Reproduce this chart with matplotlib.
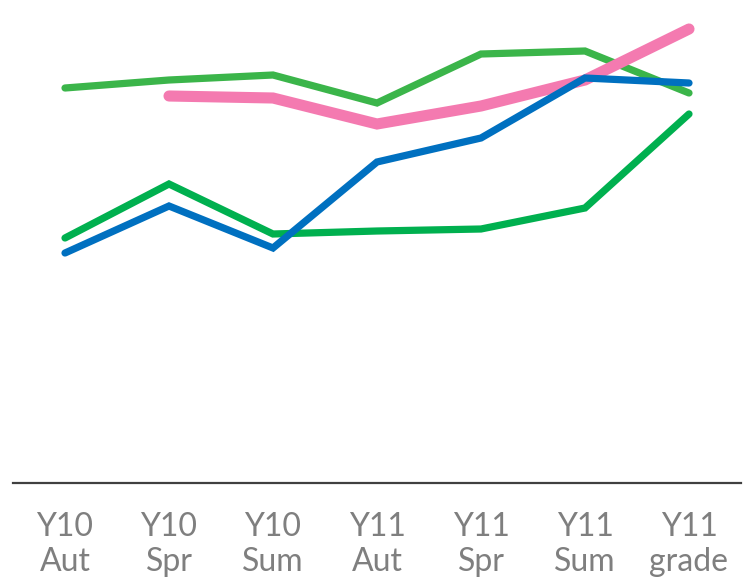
import matplotlib
matplotlib.use("Agg")
import matplotlib.pyplot as plt
import numpy as np

categories = ["Y10\nAut", "Y10\nSpr", "Y10\nSum", "Y11\nAut", "Y11\nSpr", "Y11\nSum", "Y11\ngrade"]
series_light_green = [7.90, 8.06, 8.16, 7.60, 8.58, 8.64, 7.80]
series_pink = [np.nan, 7.74, 7.70, 7.18, 7.54, 8.06, 9.08]
series_dark_green = [4.90, 5.98, 4.98, 5.04, 5.08, 5.50, 7.38]
series_blue = [4.60, 5.54, 4.70, 6.42, 6.90, 8.10, 8.00]

fig = plt.figure(figsize=(7.47, 5.83), dpi=100)
ax = fig.add_axes([13/747, 100/583, 728/747, 483/583])
x = np.arange(len(categories))

kw = dict(solid_capstyle="round", solid_joinstyle="miter")
ax.plot(x, series_light_green, color="#3BB54A", lw=5.2, **kw)
ax.plot(x, series_pink, color="#F47AB0", lw=8.0, **kw)
ax.plot(x, series_dark_green, color="#00B04F", lw=5.2, **kw)
ax.plot(x, series_blue, color="#0070C0", lw=5.2, **kw)

ax.set_xlim(-0.5, 6.5)
ax.set_ylim(0, 9.66)
for s in ["top", "right", "left"]:
    ax.spines[s].set_visible(False)
ax.spines["bottom"].set_color("#404040")
ax.spines["bottom"].set_linewidth(1.6)
ax.set_yticks([])
ax.set_xticks(x)
ax.set_xticklabels(categories, fontsize=23, color="#7F7F7F", family=["Lato", "DejaVu Sans"],
                   fontweight="normal", linespacing=1.2)
ax.tick_params(axis="x", length=0, pad=21)
ax.patch.set_alpha(0)

fig.savefig("out.png", dpi=100)
